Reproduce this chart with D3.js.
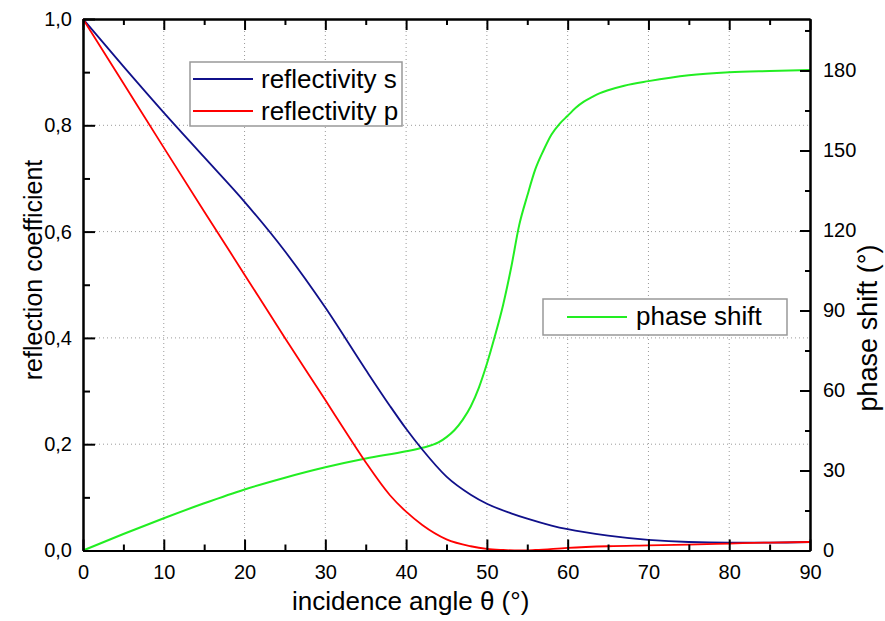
<!DOCTYPE html>
<html><head><meta charset="utf-8">
<script src="https://cdn.jsdelivr.net/npm/d3@7"></script>
<style>
html,body{margin:0;padding:0;background:#fff;}
svg{display:block;font-family:"Liberation Sans",Arial,sans-serif;}
</style></head>
<body><svg id="c" width="885" height="621"></svg>
<script>
// ---- data ----
const sAngles = [0,5,10,15,20,25,30,35,38,40,42,45,48,50,53,55,58,60,65,70,75,80,85,90];
const reflS   = [1.0,0.911,0.824,0.74,0.656,0.563,0.457,0.34,0.272,0.229,0.19,0.139,0.105,0.088,0.07,0.06,0.047,0.040,0.028,0.020,0.016,0.015,0.015,0.016];
const pAngles = [0,5,10,15,20,25,30,33,35,38,40,42,45,48,50,52,54,56,60,65,70,75,80,85,90];
const reflP   = [1.0,0.879,0.758,0.638,0.519,0.40,0.283,0.212,0.166,0.104,0.073,0.048,0.021,0.008,0.003,0.001,0.0,0.001,0.005,0.008,0.0095,0.011,0.013,0.015,0.016];
const phAngles = [0,5,10,15,20,25,30,35,40,42,44,45,46,47,48,49,50,51,52,53,54,55,56,57,58,59,60,61,62,63,64,65,67,70,75,80,85,90];
const phase    = [0,6.2,12.1,17.7,22.9,27.3,31.2,34.5,37.2,38.5,40.5,42.5,45.2,49,54,61,70,80.5,92,106,122,133,143,150,156,160,163,166,168.3,170,171.5,172.6,174.3,176,178.2,179.3,179.8,180.2];
const xTicks = [0,10,20,30,40,50,60,70,80,90];
const xMinor = [5,15,25,35,45,55,65,75,85];
const yTicks = [0,0.2,0.4,0.6,0.8,1.0];
const yMinor = [0.1,0.3,0.5,0.7,0.9];
const rTicks = [0,30,60,90,120,150,180];
const rMinor = [15,45,75,105,135,165,195];
const legend1 = ["reflectivity s","reflectivity p"];
const legend2 = ["phase shift"];
const xTitle = "incidence angle θ (°)";
const yTitle = "reflection coefficient";
const rTitle = "phase shift (°)";

// ---- layout ----
const L=83, R=810, T=19, B=550.5;
const svg = d3.select("#c");
const x = d3.scaleLinear().domain([0,90]).range([L,R]);
const y = d3.scaleLinear().domain([0,1]).range([B,T]);
const yr = d3.scaleLinear().domain([0,199.3]).range([B,T]);
const colS="#10108a", colP="#ff0000", colG="#22ee22";

// grid
const grid = svg.append("g").attr("stroke","#9a9a9a").attr("stroke-width",1).attr("stroke-dasharray","1,3");
grid.selectAll("line.v").data(xTicks.filter(d=>d>0&&d<90)).join("line")
  .attr("x1",d=>x(d)).attr("x2",d=>x(d)).attr("y1",T).attr("y2",B);
grid.selectAll("line.h").data(yTicks.filter(d=>d>0&&d<1)).join("line").attr("class","h")
  .attr("x1",L).attr("x2",R).attr("y1",d=>y(d)).attr("y2",d=>y(d));

// curves
const lineS = d3.line().x((d,i)=>x(sAngles[i])).y(d=>y(d)).curve(d3.curveMonotoneX);
const lineP = d3.line().x((d,i)=>x(pAngles[i])).y(d=>y(d)).curve(d3.curveMonotoneX);
const lineG = d3.line().x((d,i)=>x(phAngles[i])).y(d=>yr(d)).curve(d3.curveMonotoneX);
svg.append("path").datum(phase).attr("d",lineG).attr("fill","none").attr("stroke",colG).attr("stroke-width",2);
svg.append("path").datum(reflS).attr("d",lineS).attr("fill","none").attr("stroke",colS).attr("stroke-width",1.8);
svg.append("path").datum(reflP).attr("d",lineP).attr("fill","none").attr("stroke",colP).attr("stroke-width",1.8);

// axes
function style(g){
  g.selectAll(".domain").attr("stroke","#000").attr("stroke-width",2);
  g.selectAll(".tick line").attr("stroke","#000").attr("stroke-width",2);
  g.selectAll("text").attr("font-size",20).attr("fill","#000").attr("font-family","Liberation Sans, Arial, sans-serif");
}
const fmtY = d=>d.toFixed(1).replace(".",",");
svg.append("g").attr("transform",`translate(0,${B})`)
  .call(d3.axisBottom(x).tickValues(xTicks).tickSize(-11).tickSizeOuter(0).tickPadding(14.5).tickFormat(d3.format("d"))).call(style);
svg.append("g").attr("transform",`translate(0,${B})`)
  .call(d3.axisBottom(x).tickValues(xMinor).tickSize(-6).tickSizeOuter(0).tickFormat("")).call(style);
svg.append("g").attr("transform",`translate(0,${T})`)
  .call(d3.axisTop(x).tickValues(xTicks).tickSize(-11).tickSizeOuter(0).tickFormat("")).call(style);
svg.append("g").attr("transform",`translate(0,${T})`)
  .call(d3.axisTop(x).tickValues(xMinor).tickSize(-6).tickSizeOuter(0).tickFormat("")).call(style);
svg.append("g").attr("transform",`translate(${L},0)`)
  .call(d3.axisLeft(y).tickValues(yTicks).tickSize(-12).tickSizeOuter(0).tickPadding(11).tickFormat(fmtY)).call(style);
svg.append("g").attr("transform",`translate(${L},0)`)
  .call(d3.axisLeft(y).tickValues(yMinor).tickSize(-7).tickSizeOuter(0).tickFormat("")).call(style);
svg.append("g").attr("transform",`translate(${R},0)`)
  .call(d3.axisRight(yr).tickValues(rTicks).tickSize(-10).tickSizeOuter(0).tickPadding(13).tickFormat(d3.format("d"))).call(style);
svg.append("g").attr("transform",`translate(${R},0)`)
  .call(d3.axisRight(yr).tickValues(rMinor).tickSize(-5).tickSizeOuter(0).tickFormat("")).call(style);

// titles
svg.append("text").attr("x",292).attr("y",610).attr("font-size",26).text(xTitle);
svg.append("text").attr("transform","translate(42,270) rotate(-90)").attr("text-anchor","middle").attr("font-size",25).text(yTitle);
svg.append("text").attr("transform","translate(877,328) rotate(-90)").attr("text-anchor","middle").attr("font-size",27).text(rTitle);

// legends
const lg1 = svg.append("g");
lg1.append("rect").attr("x",190).attr("y",62).attr("width",212).attr("height",64).attr("fill","#fff").attr("stroke","#999").attr("stroke-width",1.5);
[[colS,79,88],[colP,111,120]].forEach((r,i)=>{
  lg1.append("line").attr("x1",193).attr("x2",253).attr("y1",r[1]).attr("y2",r[1]).attr("stroke",r[0]).attr("stroke-width",2);
  lg1.append("text").attr("x",261).attr("y",r[2]).attr("font-size",26).text(legend1[i]);
});
const lg2 = svg.append("g");
lg2.append("rect").attr("x",543).attr("y",299).attr("width",244).attr("height",36).attr("fill","#fff").attr("stroke","#999").attr("stroke-width",1.5);
lg2.append("line").attr("x1",567).attr("x2",627).attr("y1",317).attr("y2",317).attr("stroke",colG).attr("stroke-width",2);
lg2.append("text").attr("x",636).attr("y",325).attr("font-size",26).text(legend2[0]);
</script></body></html>
